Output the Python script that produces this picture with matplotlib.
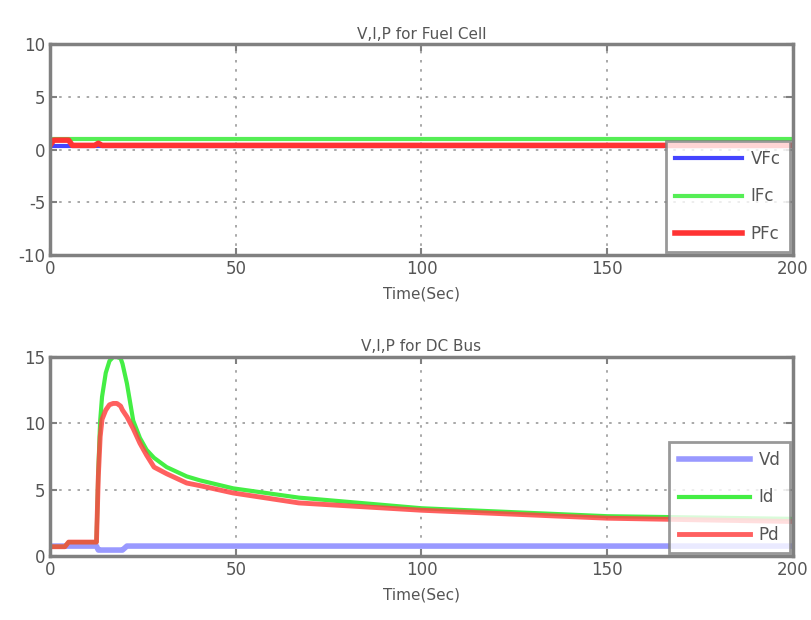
import matplotlib
matplotlib.use("Agg")
import matplotlib.pyplot as plt

plt.rcParams["axes.unicode_minus"] = False

# fuel cell (top panel)
t_fc = [0, 1, 5, 6, 12, 13, 14, 200]
v_fc = [0.3, 0.3, 0.3, 0.3, 0.3, 0.3, 0.3, 0.3]
i_fc = [1.0, 1.0, 1.0, 1.0, 1.0, 1.0, 1.0, 1.0]
p_fc = [0.4, 0.9, 0.9, 0.4, 0.4, 0.6, 0.4, 0.4]

# dc bus (bottom panel)
t_bus = [0, 4, 5, 12.5, 13, 13.5, 14, 15, 16, 17, 18, 19, 19.5, 20.7, 22.4,
         24.2, 26, 28, 31.4, 36.8, 40.4, 49.3, 67, 100, 150, 200]
i_bus = [0.7, 0.7, 1.05, 1.05, 6.5, 10.2, 12.0, 13.8, 14.7, 15.0, 15.0, 14.9,
         14.5, 13.0, 10.2, 8.9, 8.0, 7.4, 6.7, 6.0, 5.7, 5.1, 4.4, 3.6, 3.0, 2.8]
p_bus = [0.7, 0.7, 1.05, 1.05, 6.0, 9.0, 10.3, 11.0, 11.4, 11.5, 11.5, 11.3,
         11.0, 10.5, 9.6, 8.5, 7.6, 6.7, 6.2, 5.5, 5.3, 4.75, 4.0, 3.45, 2.85, 2.6]
v_bus = [0.75, 0.75, 0.75, 0.75, 0.45, 0.45, 0.45, 0.45, 0.45, 0.45, 0.45, 0.45,
         0.45, 0.75, 0.75, 0.75, 0.75, 0.75, 0.75, 0.75, 0.75, 0.75, 0.75, 0.75, 0.75, 0.75]

gray = "#808080"
txt = "#555555"

fig = plt.figure(figsize=(8.11, 6.2), dpi=100)
ax1 = fig.add_axes([0.0617, 0.5887, 0.916, 0.340])
ax2 = fig.add_axes([0.0617, 0.1032, 0.916, 0.321])


def style(ax):
    ax.set_xlim(0, 200)
    ax.set_xticks([0, 50, 100, 150, 200])
    ax.grid(True, linestyle=(0, (1.5, 4)), color="#999999", linewidth=1.2)
    for s in ax.spines.values():
        s.set_color(gray)
        s.set_linewidth(2.5)
    ax.tick_params(direction="in", colors=gray, labelcolor=txt, labelsize=12,
                   width=1.5, length=5, top=True, right=True)
    ax.set_xlabel("Time(Sec)", color=txt, fontsize=11, labelpad=6)


def legend(ax, hl):
    leg = ax.legend(loc="lower right", fancybox=False, fontsize=12,
                    handlelength=hl, labelspacing=1.15, borderaxespad=0.2,
                    borderpad=0.55, handletextpad=0.5)
    leg.get_frame().set_edgecolor(gray)
    leg.get_frame().set_linewidth(2)
    for t in leg.get_texts():
        t.set_color(txt)


ax1.plot(t_fc, v_fc, color="#4444ff", lw=3, label="VFc")
ax1.plot(t_fc, i_fc, color="#55ee55", lw=3, label="IFc")
ax1.plot(t_fc, p_fc, color="#ff3333", lw=4, label="PFc")
ax1.set_ylim(-10, 10)
ax1.set_yticks([-10, -5, 0, 5, 10])
style(ax1)
ax1.set_title("V,I,P for Fuel Cell", color=txt, fontsize=11, pad=4)
legend(ax1, 4.0)

ax2.plot(t_bus, v_bus, color="#9999ff", lw=4, label="Vd")
ax2.plot(t_bus, i_bus, color="#44ee44", lw=3, label="Id")
ax2.plot(t_bus, p_bus, color="#ff4444", lw=3.5, alpha=0.85, label="Pd")
ax2.set_ylim(0, 15)
ax2.set_yticks([0, 5, 10, 15])
style(ax2)
ax2.set_title("V,I,P for DC Bus", color=txt, fontsize=11, pad=4)
legend(ax2, 4.3)

fig.savefig("out.png", dpi=100)
